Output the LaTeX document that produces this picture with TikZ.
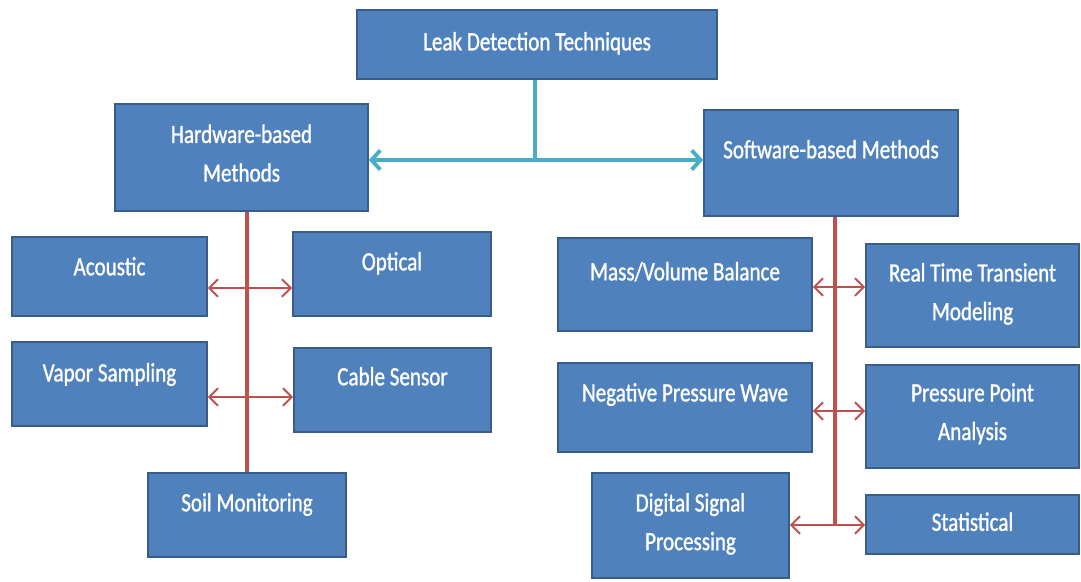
\documentclass[tikz,border=0pt]{standalone}
\usepackage{fontspec}
\newfontfamily\boxfont[FakeStretch=0.8,FakeBold=1.2]{Carlito}
\usetikzlibrary{positioning}
\usetikzlibrary{arrows.meta}
\definecolor{box-blue}{HTML}{4F81BD}
\definecolor{box-edge}{HTML}{385D8A}
\definecolor{link-red}{HTML}{C0504D}
\definecolor{link-teal}{HTML}{4BACC6}
\tikzset{
  method/.style={draw=box-edge, line width=1pt, fill=box-blue, text=white, align=center,
    font=\boxfont\fontsize{15}{22}\selectfont, text height=11pt, inner sep=0pt},
  two-line/.style={text height=33pt},
  top-link/.style={link-teal, line width=2.2pt, {Straight Barb[length=5pt,width=11pt]}-{Straight Barb[length=5pt,width=11pt]}},
  trunk/.style={link-red, line width=1.8pt},
  branch/.style={link-red, line width=1.1pt, {Straight Barb[length=5pt,width=10pt]}-{Straight Barb[length=5pt,width=10pt]}},
}
\begin{document}
\begin{tikzpicture}
\useasboundingbox (0,0) rectangle (21.62,-11.62);
% main node
\node[method, minimum width=7.2cm, minimum height=1.38cm, text depth=4.4pt] at (10.74, -0.89) (leak) {Leak Detection Techniques};
\node[method, two-line, minimum width=5.06cm, minimum height=2.14cm, text depth=5.6pt] at (4.83, -3.15) (hardware) {Hardware-based\\Methods};
\node[method, minimum width=5.08cm, minimum height=2.12cm, text depth=16.4pt] at (16.62, -3.26) (software) {Software-based Methods};
% hardware-based
\node[method, minimum width=3.9cm, minimum height=1.58cm, text depth=12.4pt] at (2.19, -5.53) (acoustic) {Acoustic};
\node[method, minimum width=3.96cm, minimum height=1.68cm, text depth=15.2pt] at (7.84, -5.48) (optical) {Optical};
\node[method, minimum width=3.9cm, minimum height=1.68cm, text depth=14pt] at (2.19, -7.68) (vapor) {Vapor Sampling};
\node[method, minimum width=3.94cm, minimum height=1.68cm, text depth=16.4pt] at (7.85, -7.80) (cable) {Cable Sensor};
\node[method, minimum width=3.96cm, minimum height=1.68cm, text depth=15.2pt] at (4.94, -10.30) (soil) {Soil Monitoring};
% software-based
\node[method, minimum width=5.08cm, minimum height=1.86cm, text depth=15.8pt] at (13.70, -5.69) (mass) {Mass/Volume Balance};
\node[method, two-line, minimum width=4.26cm, minimum height=2.06cm, text depth=5pt] at (19.45, -5.91) (transient) {Real Time Transient\\Modeling};
\node[method, minimum width=5.08cm, minimum height=1.78cm, text depth=18pt] at (13.70, -8.15) (wave) {Negative Pressure Wave};
\node[method, two-line, minimum width=4.26cm, minimum height=2.06cm, text depth=6.2pt] at (19.45, -8.33) (point) {Pressure Point\\Analysis};
\node[method, two-line, minimum width=3.94cm, minimum height=2.10cm, text depth=5pt] at (13.81, -10.51) (signal) {Digital Signal\\Processing};
\node[method, minimum width=4.26cm, minimum height=1.18cm, text depth=3.9pt] at (19.45, -10.49) (statistical) {Statistical};
% connectors
\coordinate (split) at (10.70, -3.20);
\draw[top-link, -] (leak.south -| split) -- (split);
\draw[top-link] (hardware.east |- split) -- (software.west |- split);
\coordinate (hw1) at (4.94, -5.76);
\coordinate (hw2) at (4.94, -7.94);
\draw[trunk] (soil.north) -- (soil.north |- hardware.south);
\draw[branch] (acoustic.east |- hw1) -- (optical.west |- hw1);
\draw[branch] (vapor.east |- hw2) -- (cable.west |- hw2);
\coordinate (sw1) at (16.70, -5.74);
\coordinate (sw2) at (16.70, -8.22);
\coordinate (sw3) at (16.70, -10.50);
\draw[trunk] (sw3) -- (sw3 |- software.south);
\draw[branch] (mass.east |- sw1) -- (transient.west |- sw1);
\draw[branch] (wave.east |- sw2) -- (point.west |- sw2);
\draw[branch] (signal.east |- sw3) -- (statistical.west |- sw3);
\end{tikzpicture}
\end{document}
